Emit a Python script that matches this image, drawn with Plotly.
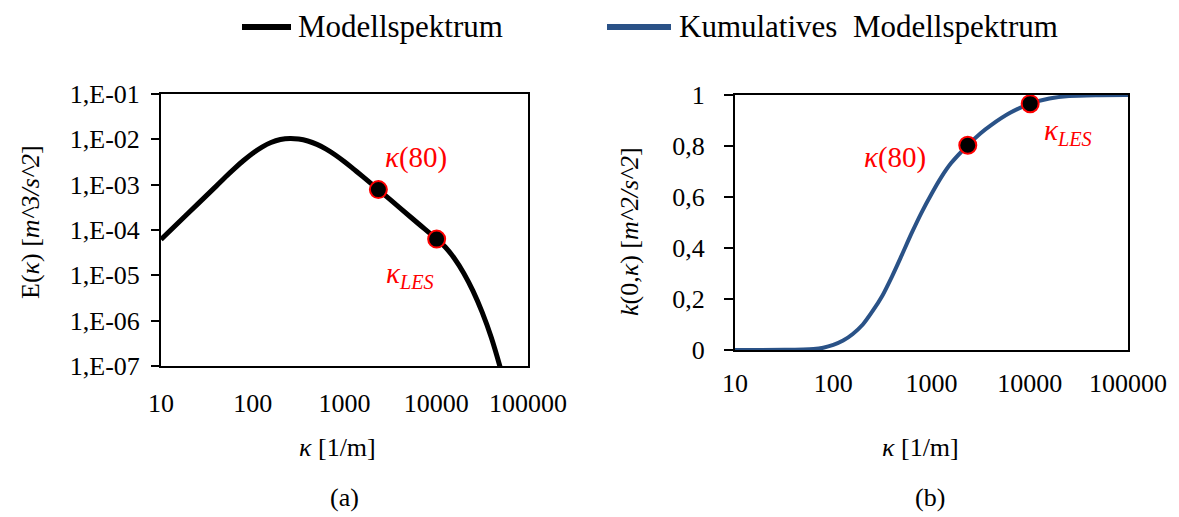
import plotly.graph_objects as go

# ---- data ----
kappa_E = [10, 20, 40, 50.1, 63.1, 79.4, 100, 126, 158, 200, 255, 316, 398, 501, 631, 794, 1000,
           1259, 1585, 2340, 3981, 6310, 10100, 12590, 15850, 19950, 25120, 31620, 39810, 50120,
           63100]
E_vals = [6.19e-5, 2.40e-4, 9.29e-4, 1.455e-3, 2.257e-3, 3.41e-3, 4.94e-3, 6.75e-3, 8.54e-3,
          9.92e-3, 1.048e-2, 1.016e-2, 9.19e-3, 7.74e-3, 6.10e-3, 4.52e-3, 3.20e-3, 2.20e-3,
          1.50e-3, 7.78e-4, 3.12e-4, 1.41e-4, 6.30e-5, 4.15e-5, 2.33e-5, 1.117e-5, 4.55e-6,
          1.54e-6, 4.25e-7, 8.87e-8, 1.58e-8]

kappa_k = [10, 32, 63, 79, 100, 126, 158, 200, 251, 316, 398, 501, 631, 794, 1000, 1259, 1585, 2340,
           3162, 3981, 6310, 10100, 15850, 25120, 50120, 100000]
k_vals = [0, 0.0005, 0.004, 0.009, 0.02, 0.037, 0.063, 0.10, 0.152, 0.213, 0.29, 0.374, 0.46, 0.54,
          0.612, 0.678, 0.733, 0.803, 0.85, 0.88, 0.93, 0.966, 0.986, 0.996, 0.9995, 1.0]

kappa_marks = [2340, 10100]
E_marks = [7.78e-4, 6.3e-5]
k_marks = [0.803, 0.966]
mark_labels = ["<i>κ</i>(80)", "<i>κ</i><sub><i>LES</i></sub>"]

x_tickvals = [10, 100, 1000, 10000, 100000]
x_ticktext = ["10", "100", "1000", "10000", "100000"]
yE_tickvals = [1e-1, 1e-2, 1e-3, 1e-4, 1e-5, 1e-6, 1e-7]
yE_ticktext = ["1,E-01", "1,E-02", "1,E-03", "1,E-04", "1,E-05", "1,E-06", "1,E-07"]
yk_tickvals = [0, 0.2, 0.4, 0.6, 0.8, 1.0]
yk_ticktext = ["0", "0,2", "0,4", "0,6", "0,8", "1"]

series_names = ["Modellspektrum", "Kumulatives\u00a0 Modellspektrum"]
BLUE = "#2A5287"
RED = "#FF0000"
FONT = "Liberation Serif, Times New Roman, serif"

W, H = 1179, 517


def px(x):
    return x / W


def py(y):
    return 1 - y / H


fig = go.Figure()

fig.add_trace(go.Scatter(x=kappa_E, y=E_vals, mode="lines", name=series_names[0],
                         line=dict(color="black", width=5, shape="spline", smoothing=1.0),
                         xaxis="x", yaxis="y", showlegend=False))
fig.add_trace(go.Scatter(x=kappa_k, y=k_vals, mode="lines", name=series_names[1],
                         line=dict(color=BLUE, width=4, shape="spline", smoothing=0.8),
                         xaxis="x2", yaxis="y2", showlegend=False))
fig.add_trace(go.Scatter(x=kappa_marks, y=E_marks, mode="markers", cliponaxis=False,
                         marker=dict(color="black", size=17, line=dict(color=RED, width=2)),
                         xaxis="x", yaxis="y", showlegend=False))
fig.add_trace(go.Scatter(x=kappa_marks, y=k_marks, mode="markers", cliponaxis=False,
                         marker=dict(color="black", size=17, line=dict(color=RED, width=2)),
                         xaxis="x2", yaxis="y2", showlegend=False))

axis_common = dict(showline=True, mirror=True, linecolor="black", linewidth=2,
                   showgrid=False, zeroline=False, automargin=False,
                   tickfont=dict(family=FONT, size=26, color="black"))

fig.update_layout(
    width=W, height=H,
    margin=dict(l=0, r=0, t=0, b=0, pad=0, autoexpand=False),
    paper_bgcolor="white", plot_bgcolor="white",
    font=dict(family=FONT, color="black"),
    xaxis=dict(type="log", range=[1, 5], domain=[px(161), px(528)], anchor="y",
               tickvals=x_tickvals, ticktext=x_ticktext, ticks="", ticklabelstandoff=13,
               **axis_common),
    yaxis=dict(type="log", range=[-7, -1], domain=[py(366), py(94)], anchor="x",
               tickvals=yE_tickvals, ticktext=yE_ticktext, ticks="outside", ticklen=8,
               tickwidth=2, tickcolor="black", ticklabelstandoff=6, **axis_common),
    xaxis2=dict(type="log", range=[1, 5], domain=[px(735), px(1128)], anchor="y2",
                tickvals=x_tickvals, ticktext=x_ticktext, ticks="", ticklabelstandoff=9,
                **axis_common),
    yaxis2=dict(range=[0, 1], domain=[py(350), py(95)], anchor="x2",
                tickvals=yk_tickvals, ticktext=yk_ticktext, ticks="outside", ticklen=9,
                tickwidth=2, tickcolor="black", ticklabelstandoff=14, **axis_common),
)

# manual legend
fig.add_shape(type="line", xref="paper", yref="paper", x0=px(242), x1=px(291), y0=py(27), y1=py(27),
              line=dict(color="black", width=6))
fig.add_shape(type="line", xref="paper", yref="paper", x0=px(607), x1=px(671), y0=py(27), y1=py(27),
              line=dict(color=BLUE, width=6))

ann = []
ann.append(dict(text=series_names[0], x=px(296), y=py(27), xanchor="left", yanchor="middle",
                font=dict(size=31)))
ann.append(dict(text=series_names[1], x=px(677), y=py(27), xanchor="left", yanchor="middle",
                font=dict(size=31)))
# axis titles
ann.append(dict(text="E(<i>κ</i>) [<i>m^3/s^2</i>]", x=px(30), y=py(222), textangle=-90,
                xanchor="center", yanchor="middle", font=dict(size=26)))
ann.append(dict(text="<i>k</i>(0,<i>κ</i>) [<i>m^2/s^2</i>]", x=px(629), y=py(232), textangle=-90,
                xanchor="center", yanchor="middle", font=dict(size=26)))
ann.append(dict(text="<i>κ</i> [1/m]", x=px(337), y=py(447), xanchor="center", yanchor="middle",
                font=dict(size=26)))
ann.append(dict(text="<i>κ</i> [1/m]", x=px(920), y=py(447), xanchor="center", yanchor="middle",
                font=dict(size=26)))
ann.append(dict(text="(a)", x=px(344), y=py(497), xanchor="center", yanchor="middle",
                font=dict(size=26)))
ann.append(dict(text="(b)", x=px(930), y=py(497), xanchor="center", yanchor="middle",
                font=dict(size=26)))
# red point labels
ann.append(dict(text=mark_labels[0], x=px(416), y=py(158), xanchor="center", yanchor="middle",
                font=dict(size=29, color=RED)))
ann.append(dict(text=mark_labels[1], x=px(410), y=py(275), xanchor="center", yanchor="middle",
                font=dict(size=29, color=RED)))
ann.append(dict(text=mark_labels[0], x=px(895), y=py(157), xanchor="center", yanchor="middle",
                font=dict(size=29, color=RED)))
ann.append(dict(text=mark_labels[1], x=px(1068), y=py(132), xanchor="center", yanchor="middle",
                font=dict(size=29, color=RED)))

for a in ann:
    a.update(xref="paper", yref="paper", showarrow=False)
    a["font"] = dict(family=FONT, color=a["font"].get("color", "black"), size=a["font"]["size"])
    fig.add_annotation(**a)

fig.write_html("out.html")
